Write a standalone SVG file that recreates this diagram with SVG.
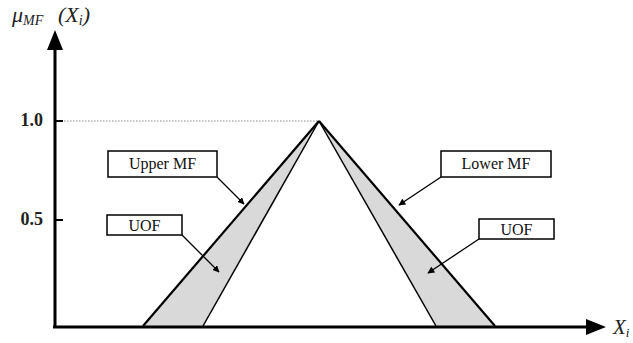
<svg xmlns="http://www.w3.org/2000/svg" width="633" height="343" viewBox="0 0 633 343">
<defs>
<style>
.ax{stroke:#000;stroke-width:3;fill:none}
.box{fill:#fff;stroke:#000;stroke-width:1.5}
.lbl{font-family:"Liberation Serif",serif;font-size:16px;fill:#111;text-anchor:middle}
.tick{font-family:"Liberation Serif",serif;font-size:18px;font-weight:bold;fill:#222;text-anchor:end}
.ptr{stroke:#000;stroke-width:1.3;fill:none;marker-end:url(#ah)}
.it{font-family:"Liberation Serif",serif;font-style:italic;fill:#222}
</style>
<marker id="ah" viewBox="0 0 10 10" refX="9" refY="5" markerWidth="7" markerHeight="7" orient="auto" markerUnits="userSpaceOnUse">
<path d="M0,0 L10,5 L0,10 z" fill="#000"/>
</marker>
</defs>
<g id="fill">
<polygon points="143,326 319,121 203,326" fill="#d9d9d9"/>
<polygon points="436,326 319,121 495,326" fill="#d9d9d9"/>
</g>
<g id="axes">
<line class="ax" x1="55" y1="327" x2="55" y2="48"/>
<polygon points="55,30 47,50 63,50" fill="#000"/>
<line class="ax" x1="53" y1="327" x2="588" y2="327"/>
<polygon points="606,327 586,319 586,335" fill="#000"/>
<line x1="55" y1="121" x2="63" y2="121" stroke="#000" stroke-width="2"/>
<line x1="55" y1="220" x2="63" y2="220" stroke="#000" stroke-width="2"/>
<line x1="64" y1="121" x2="319" y2="121" stroke="#888" stroke-width="1" stroke-dasharray="1.5,1.5"/>
<text class="tick" x="43" y="126">1.0</text>
<text class="tick" x="43" y="225">0.5</text>
<text class="it" x="12" y="22" font-size="22">μ<tspan font-size="14" dy="3">MF</tspan><tspan x="58" dy="-3" font-size="22">(X</tspan><tspan font-size="14" dy="3">i</tspan><tspan font-size="22" dy="-3">)</tspan></text>
<text class="it" x="613" y="334" font-size="21">X<tspan font-size="13" dy="3">i</tspan></text>
</g>
<g id="curves">
<line x1="143" y1="326" x2="319" y2="121" stroke="#000" stroke-width="2.2"/>
<line x1="203" y1="326" x2="319" y2="121" stroke="#000" stroke-width="1.5"/>
<line x1="495" y1="326" x2="319" y2="121" stroke="#000" stroke-width="2.2"/>
<line x1="436" y1="326" x2="319" y2="121" stroke="#000" stroke-width="1.5"/>
</g>
<g id="upper-mf">
<rect class="box" x="108" y="151" width="109" height="26"/>
<text class="lbl" x="162.5" y="169">Upper MF</text>
</g>
<g id="uof-left">
<rect class="box" x="107" y="215" width="75" height="20"/>
<text class="lbl" x="144.5" y="230.5">UOF</text>
</g>
<g id="lower-mf">
<rect class="box" x="441" y="151" width="110" height="26"/>
<text class="lbl" x="496" y="169">Lower MF</text>
</g>
<g id="uof-right">
<rect class="box" x="479" y="219" width="75" height="20"/>
<text class="lbl" x="516.5" y="234.5">UOF</text>
</g>
<g id="connectors">
<line class="ptr" x1="217" y1="177" x2="244" y2="204"/>
<line class="ptr" x1="182" y1="235" x2="219" y2="272"/>
<line class="ptr" x1="441" y1="177" x2="399" y2="205"/>
<line class="ptr" x1="479" y1="239" x2="428" y2="273"/>
</g>
</svg>
